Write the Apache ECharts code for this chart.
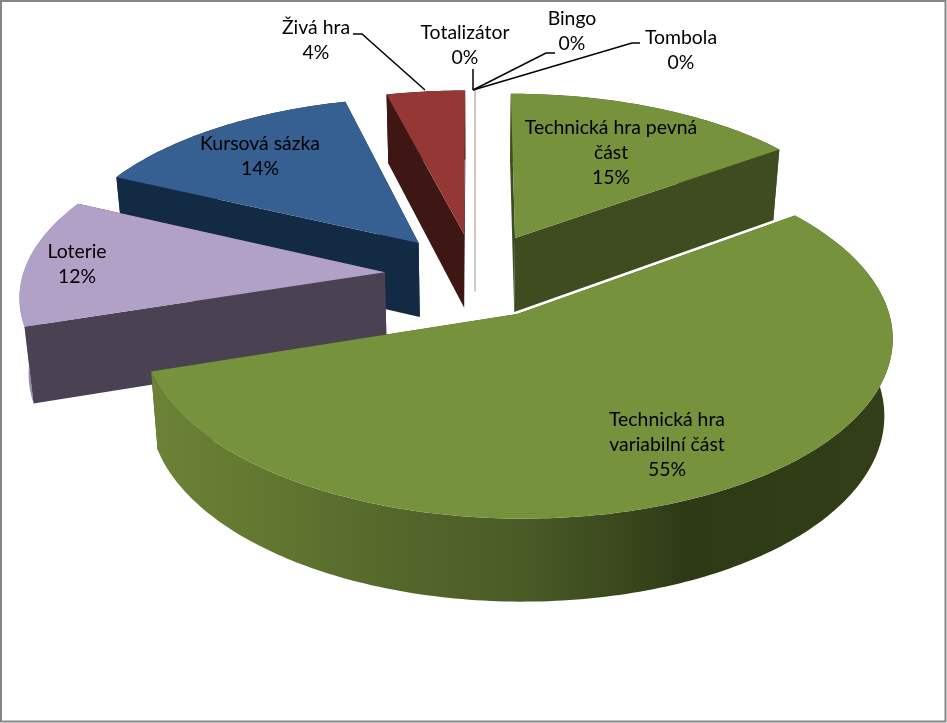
<!DOCTYPE html>
<html><head><meta charset="utf-8">
<style>html,body{margin:0;padding:0;background:#fff}#c{width:947px;height:723px}</style>
<script src="https://cdn.jsdelivr.net/npm/echarts@6/dist/echarts.min.js"></script>
</head><body><div id="c"></div>
<script>
// Data
const categories = ['Technická hra pevná\nčást','Technická hra\nvariabilní část','Loterie','Kursová sázka','Živá hra','Totalizátor','Bingo','Tombola'];
const values = [15,55,12,14,4,0,0,0];

// Styles and layout
const topColors  = ['#76923c','#76923c','#b2a1c7','#366092','#953735','#d8b8b8','#d8b8b8','#d8b8b8'];
const wallColors = ['#3f4c1f','#3f4c1f','#4a4152','#132a44','#3e1715','#c4c4c4','#c4c4c4','#c4c4c4'];
const rimColors  = ['#3f4c1f',null,'#9d8cb0','#132a44','#3e1715','#c4c4c4','#c4c4c4','#c4c4c4'];
const paintOrder = [5,6,7,4,3,2,0,1];
const labelCentres = [[611,153],[667,445],[77,264],[260,156],[316,40],[465,45],[572,31],[681,50]];
const leaderPaths = {
  4:[[353,34],[362,34],[425,90]],
  5:[[473,69],[473,90]],
  6:[[555,53],[546,53],[473,90]],
  7:[[640,43],[632,43],[473,90]]
};
const view = {cx:475, cy:275, A:362, B:170, p:0.12, H:75, k:0.98, explode:0.25, zeroWall:0.78};

const total = values.reduce((a,b)=>a+b,0);
const starts = []; let acc = 0;
values.forEach(v=>{starts.push(acc/total*Math.PI*2); acc+=v;});

function project(X,Y,low,wall){
  const s = 1/(1+view.p*Y), f = low ? view.k : 1;
  return [view.cx+view.A*X*s*f, view.cy-view.B*Y*s*f+(low?view.H*(wall==null?1:wall)*s:0)];
}
const rimGradient = {type:'linear',x:0,y:0,x2:1,y2:0,colorStops:[
  {offset:0,color:'#6c8237'},{offset:0.15,color:'#627830'},{offset:0.3,color:'#566a2c'},
  {offset:0.5,color:'#4a5b26'},{offset:0.62,color:'#3c4a1e'},{offset:0.72,color:'#2e3a15'},{offset:1,color:'#323f18'}]};

function renderSlice(params, api){
  const i = api.value(0), v = values[i];
  const a0 = starts[i], a1 = a0+v/total*Math.PI*2, mid=(a0+a1)/2;
  const ox = Math.sin(mid)*view.explode, oy = Math.cos(mid)*view.explode;
  const rim=(t)=>[ox+Math.sin(t), oy+Math.cos(t)];
  const children=[];
  if(v===0){
    const r=rim(0);
    children.push({type:'polyline',shape:{points:[project(ox,oy,false),project(ox,oy,true,view.zeroWall)]},style:{stroke:wallColors[i],lineWidth:1,fill:null}});
    children.push({type:'polyline',shape:{points:[project(r[0],r[1],false),project(ox,oy,false)]},style:{stroke:topColors[i],lineWidth:1,fill:null}});
  } else {
    const n = Math.max(4,Math.ceil((a1-a0)*180/Math.PI));
    const top=[], bot=[];
    for(let j=0;j<=n;j++){const t=a0+(a1-a0)*j/n, r=rim(t); top.push(project(r[0],r[1],false)); bot.push(project(r[0],r[1],true));}
    const radial=(t)=>{const r=rim(t);return {
      depth:(r[1]+oy)/2,
      points:[project(ox,oy,false),project(r[0],r[1],false),project(r[0],r[1],true),project(ox,oy,true)],fill:wallColors[i]};};
    const arc={depth:oy+Math.cos(mid)*Math.sin((a1-a0)/2)/((a1-a0)/2),points:top.concat(bot.slice().reverse()),fill:rimColors[i]||rimGradient};
    [radial(a0),radial(a1),arc].sort((a,b)=>b.depth-a.depth).forEach(w=>{
      children.push({type:'polygon',shape:{points:w.points},style:{fill:w.fill,stroke:null}});
    });
    children.push({type:'polygon',shape:{points:[project(ox,oy,false)].concat(top)},style:{fill:topColors[i],stroke:null}});
  }
  if(leaderPaths[i]) children.push({type:'polyline',z2:90,shape:{points:leaderPaths[i]},style:{stroke:'#000',lineWidth:1.5,fill:null}});
  children.push({type:'text',z2:100,style:{text:categories[i]+'\n'+v+'%',x:labelCentres[i][0],y:labelCentres[i][1],align:'center',verticalAlign:'middle',
    font:'19.4px Lato',lineHeight:25,fill:'#000'}});
  return {type:'group',children};
}

const chart = echarts.init(document.getElementById('c'),null,{renderer:'canvas'});
chart.setOption({
  animation:false,
  backgroundColor:'#fff',
  graphic:[{type:'rect',silent:true,z:100,shape:{x:1,y:1,width:944.5,height:720.5},style:{fill:null,stroke:'#868686',lineWidth:2}}],
  series:[{type:'custom',coordinateSystem:'none',silent:true,clip:false,
    data:paintOrder.map(i=>[i,values[i]]),
    renderItem:renderSlice}]
});
</script></body></html>
